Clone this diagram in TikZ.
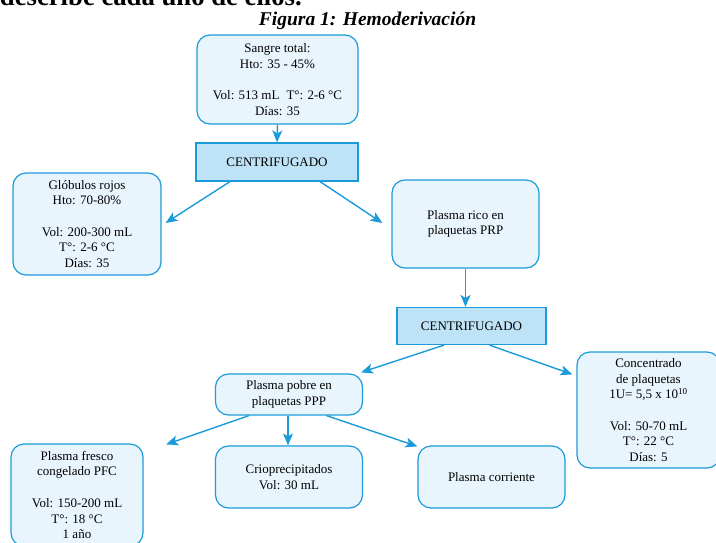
\documentclass[tikz,border=0pt]{standalone}
\usepackage{fontspec}
\setmainfont{Liberation Serif}
\usetikzlibrary{arrows.meta}
\definecolor{bord}{RGB}{27,155,218}
\definecolor{lfill}{RGB}{233,245,252}
\definecolor{cfill}{RGB}{190,227,246}
\begin{document}
\begin{tikzpicture}[x=1pt,y=-1pt,
  box/.style={draw=bord, fill=lfill, line width=1.2pt, rounded corners=13pt, align=center, inner sep=2pt, font=\fontsize{13}{15.7}\selectfont},
  cbox/.style={draw=bord, fill=cfill, line width=1.2pt, align=center, inner sep=2pt, font=\fontsize{13}{15.7}\selectfont},
  arr/.style={draw=bord, line width=1.4pt, -{Stealth[length=12pt,width=10pt,inset=3pt]}}]
\useasboundingbox (0,0) rectangle (716,542);
\clip (0,0) rectangle (716,542);
% cut-off text line at the top
\node[anchor=base east, inner sep=0pt, font=\fontsize{26.7}{30}\selectfont\bfseries] (intro) at (302,5.5) {describe cada uno de ellos.};
% title
\node[anchor=base, inner sep=0pt, font=\fontsize{19.5}{23}\selectfont\bfseries\itshape] (title) at (367.5,25.5) {Figura 1: Hemoderivación};
% boxes
\node[box, minimum width=161pt, minimum height=89pt] (top) at (277.5,79.5)
  {Sangre total:\\Hto: 35 - 45\%\\[15.7pt]Vol: 513 mL\hspace{7pt}T°: 2-6 °C\\Días: 35};
\node[cbox, minimum width=162pt, minimum height=38pt] (cent1) at (277,162) {CENTRIFUGADO};
\node[box, minimum width=148pt, minimum height=102pt] (glob) at (87,224)
  {Glóbulos rojos\\Hto: 70-80\%\\[15.7pt]Vol: 200-300 mL\\T°: 2-6 °C\\Días: 35};
\node[box, minimum width=147pt, minimum height=88pt] (rico) at (465.5,224)
  {Plasma rico en\\plaquetas PRP};
\node[cbox, minimum width=149pt, minimum height=37pt] (cent2) at (471.5,326) {CENTRIFUGADO};
\node[box, minimum width=143pt, minimum height=116pt] (conc) at (648.5,410)
  {Concentrado\\de plaquetas\\1U= 5,5 x 10\textsuperscript{10}\\[15.7pt]Vol: 50-70 mL\\T°: 22 °C\\Días: 5};
\node[box, minimum width=147pt, minimum height=41pt] (pobre) at (289,394.5)
  {Plasma pobre en\\plaquetas PPP};
\node[box, minimum width=132pt, minimum height=102pt] (pfc) at (77,495)
  {Plasma fresco\\congelado PFC\\[15.7pt]Vol: 150-200 mL\\T°: 18 °C\\1 año};
\node[box, minimum width=147pt, minimum height=62pt] (crio) at (289,477)
  {Crioprecipitados\\Vol: 30 mL};
\node[box, minimum width=147pt, minimum height=62pt] (corr) at (491.5,477)
  {Plasma corriente};
% connectors
\draw[arr] (top.south) -- (cent1.north);
\draw[arr] ([xshift=-47pt]cent1.south) -- ([xshift=4pt,yshift=1pt]glob.east);
\draw[arr] ([xshift=43pt]cent1.south) -- ([xshift=-9pt,yshift=1pt]rico.west);
\draw[arr] (rico.south) -- (rico.south |- cent2.north);
\draw[arr] ([xshift=-27.5pt]cent2.south) -- ([xshift=-2pt,yshift=1pt]pobre.north east);
\draw[arr] ([xshift=18pt]cent2.south) -- ([xshift=-4pt,yshift=-23pt]conc.north west);
\draw[arr] ([xshift=-40pt]pobre.south) -- ([xshift=22.5pt,yshift=-1pt]pfc.north east);
\draw[arr] ([xshift=-1pt]pobre.south) -- ([xshift=-1pt]crio.north);
\draw[arr] ([xshift=37.5pt]pobre.south) -- ([yshift=-1pt]corr.north west);
\end{tikzpicture}
\end{document}
